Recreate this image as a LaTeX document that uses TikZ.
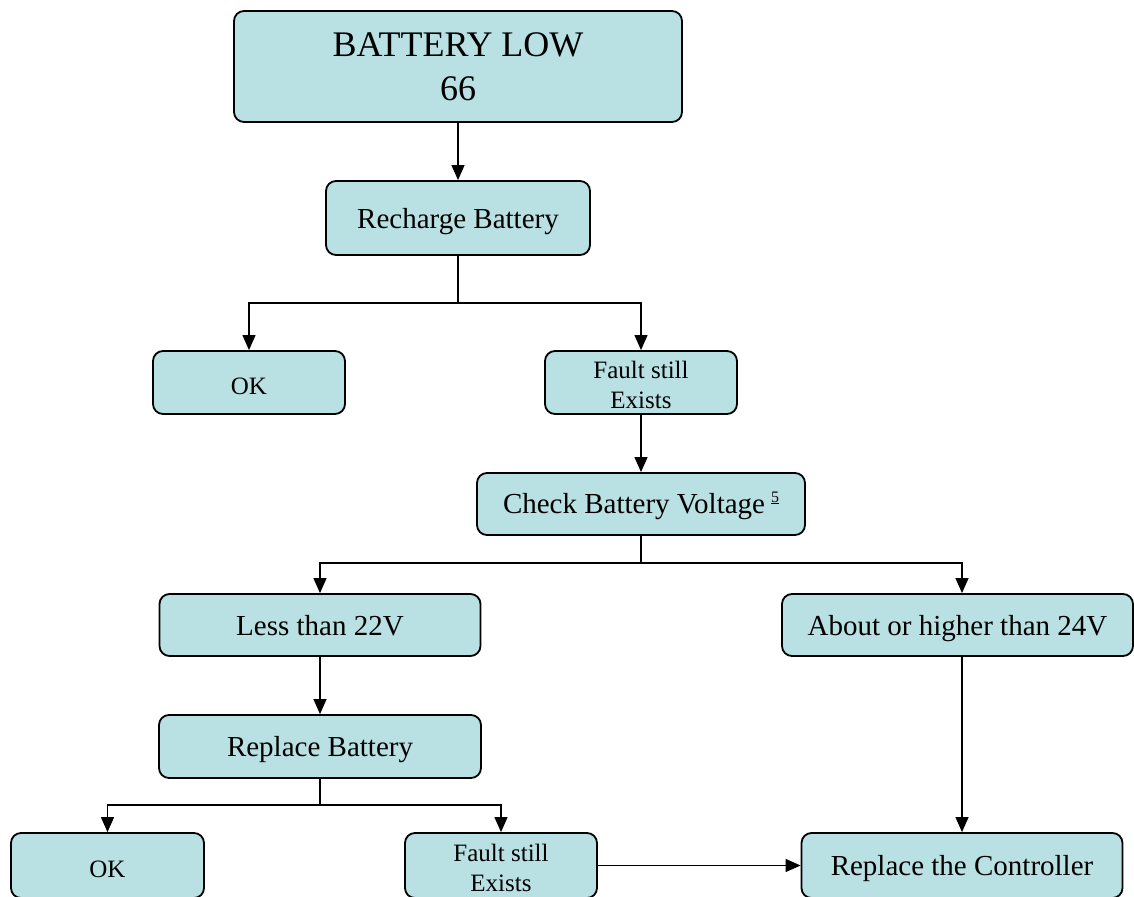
\documentclass[tikz,border=0pt]{standalone}
\usepackage{fontspec}
\setmainfont{Liberation Serif}
\usetikzlibrary{arrows.meta}
\definecolor{boxfill}{RGB}{185,224,227}
\begin{document}
\begin{tikzpicture}[x=1pt,y=-1pt,
  box/.style={draw=black, line width=1.8pt, fill=boxfill, rounded corners=10pt, inner sep=0pt, align=center},
  big/.style={font=\fontsize{29}{34}\selectfont, text height=23pt, text depth=3pt},
  small/.style={font=\fontsize{25}{30}\selectfont},
  okstyle/.style={font=\fontsize{25}{30}\selectfont, text height=24pt, text depth=1pt},
  conn/.style={line width=1.2pt, draw=black},
  arr/.style={conn, -{Triangle[length=15pt,width=13pt]}}]
\useasboundingbox (0,0) rectangle (1134,896);

\node[box, minimum width=448pt, minimum height=111pt, font=\fontsize{36}{44}\selectfont] (bl) at (458,66.5) {BATTERY LOW\\66};
\node[box, big, minimum width=264pt, minimum height=74pt] (rc) at (458,218) {Recharge Battery};
\node[box, okstyle, minimum width=192pt, minimum height=63pt] (ok1) at (249,382.5) {OK};
\node[box, small, minimum width=192pt, minimum height=63pt] (f1) at (641,382.5) {\rule{0pt}{22pt}Fault still\\Exists};
\node[box, big, text height=21pt, minimum width=328pt, minimum height=62pt] (cv) at (641,504) {Check Battery Voltage\hspace{6pt}\raisebox{11pt}{\fontsize{16}{16}\selectfont\underline{5}}};
\node[box, big, minimum width=321pt, minimum height=62pt] (lt) at (320,625) {Less than 22V};
\node[box, big, minimum width=351pt, minimum height=62pt] (ab) at (957.5,625) {About or higher than 24V};
\node[box, big, minimum width=322pt, minimum height=63pt] (rb) at (320,746.5) {Replace Battery};
\node[box, okstyle, minimum width=193pt, minimum height=65pt] (ok2) at (107.5,865.5) {OK};
\node[box, small, minimum width=192pt, minimum height=65pt] (f2) at (501,865.5) {\rule{0pt}{22pt}Fault still\\Exists};
\node[box, big, minimum width=321pt, minimum height=65pt] (rcn) at (962,865.5) {Replace the Controller};

\draw[arr] (bl.south) -- (rc.north);
\draw[conn] (rc.south) -- (458,303) coordinate (j1);
\draw[arr] (j1) -| (ok1.north);
\draw[arr] (j1) -| (f1.north);
\draw[arr] (f1.south) -- (cv.north);
\draw[conn] (cv.south) -- (641,563) coordinate (j2);
\draw[arr] (j2) -| (lt.north);
\draw[arr] (j2) -| ([xshift=4.5pt]ab.north);
\draw[arr] (lt.south) -- (rb.north);
\draw[conn] (rb.south) -- (320,805) coordinate (j3);
\draw[arr] (j3) -| (ok2.north);
\draw[arr] (j3) -| (f2.north);
\draw[arr] ([xshift=4.5pt]ab.south) -- (rcn.north);
\draw[arr] (f2.east) -- (rcn.west);
\end{tikzpicture}
\end{document}
